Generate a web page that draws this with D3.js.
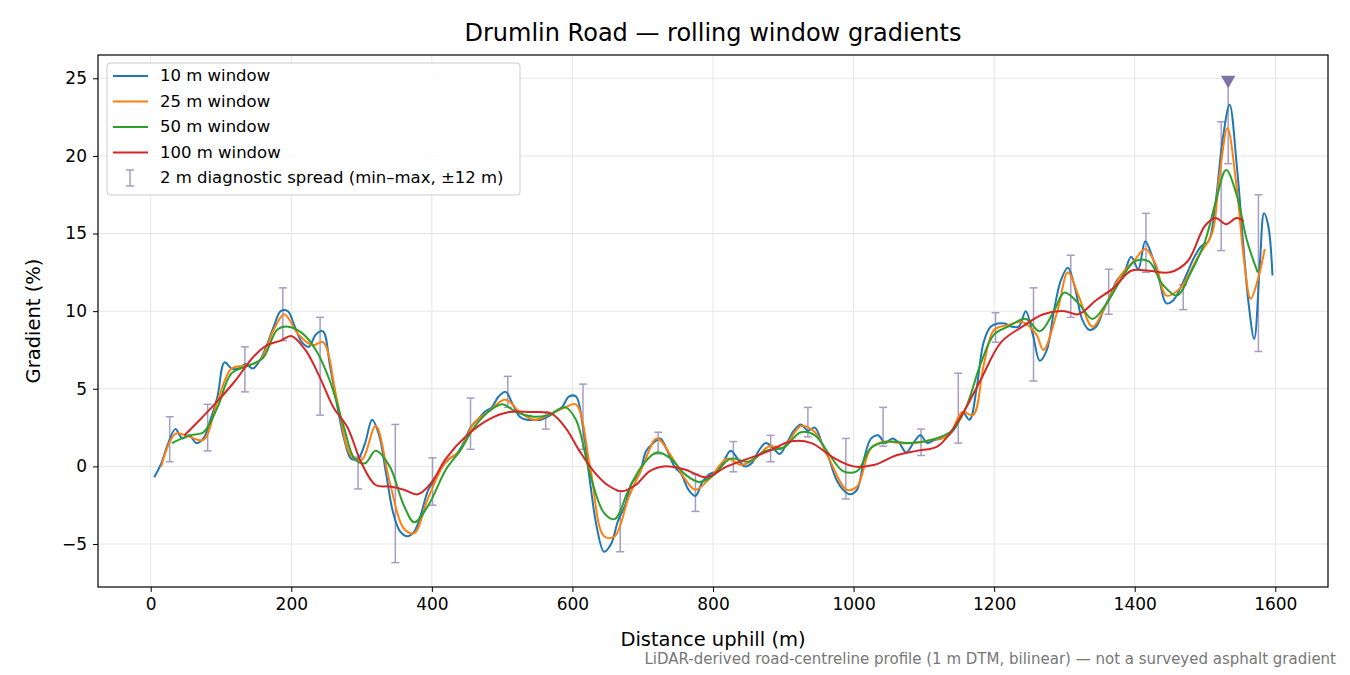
<!DOCTYPE html>
<html><head><meta charset="utf-8">
<script src="https://cdn.jsdelivr.net/npm/d3@7"></script>
<style>body{margin:0;background:#fff}svg text{font-family:"DejaVu Sans",sans-serif}</style>
</head><body><svg id="c" width="1350" height="675"></svg>
<script>
const d10 = [5,15,25,35,45,55,65,75,85,95,105,115,125,135,145,155,165,175,185,195,205,215,225,235,245,255,265,275,285,295,305,315,325,335,345,355,365,375,385,395,405,415,425,435,445,455,465,475,485,495,505,515,525,535,545,555,565,575,585,595,605,615,625,635,645,655,665,675,685,695,705,715,725,735,745,755,765,775,785,795,805,815,825,835,845,855,865,875,885,895,905,915,925,935,945,955,965,975,985,995,1005,1015,1025,1035,1045,1055,1065,1075,1085,1095,1105,1115,1125,1135,1145,1155,1165,1175,1185,1195,1205,1215,1225,1235,1245,1255,1265,1275,1285,1295,1305,1315,1325,1335,1345,1355,1365,1375,1385,1395,1405,1415,1425,1435,1445,1455,1465,1475,1485,1495,1505,1515,1525,1535,1545,1555,1562,1570,1578,1584,1590,1596];
const v10 = [-0.7,0.2,1.5,2.4,1.8,2.0,1.5,1.8,3.0,4.5,6.7,6.3,6.3,6.6,6.3,6.8,7.8,9.0,10.0,10.0,9.0,8.0,7.7,8.5,8.7,6.5,4.0,1.8,0.5,0.5,1.5,3.0,2.0,-0.5,-3.0,-4.2,-4.5,-4.2,-3.0,-1.5,-0.8,0.0,0.5,0.8,1.5,2.5,3.0,3.5,3.8,4.5,4.8,4.0,3.2,3.0,3.0,3.0,3.2,3.5,3.8,4.5,4.5,2.5,-1.0,-4.0,-5.5,-5.0,-3.5,-2.5,-1.0,-0.5,1.0,1.5,1.8,1.0,0.0,-0.5,-1.5,-1.9,-1.0,-0.5,-0.3,0.3,1.0,0.5,0.0,0.2,1.0,1.5,1.2,0.8,1.5,2.3,2.7,2.3,2.5,1.5,0.5,-0.8,-1.5,-1.8,-1.5,0.5,1.8,2.0,1.5,1.8,1.5,0.9,1.5,2.0,1.5,1.7,1.8,2.0,2.5,3.5,3.0,5.0,8.0,9.0,9.2,9.2,9.0,9.0,10.0,8.5,6.8,7.5,10.0,12.0,12.8,11.5,9.5,8.8,9.0,10.0,11.0,12.0,12.5,13.5,12.7,14.5,13.5,12.0,10.5,10.7,11.5,12.5,13.5,14.2,14.5,17.0,21.0,23.3,19.5,14.0,10.5,8.2,13.0,16.3,15.5,12.3];
const d25 = [15,35,55,75,95,115,135,155,175,190,210,230,245,265,285,300,320,340,360,375,395,420,440,460,480,505,525,545,565,590,605,625,645,660,680,700,720,740,760,775,795,820,840,860,880,900,925,945,965,990,1005,1025,1045,1065,1085,1110,1135,1155,1170,1185,1200,1220,1240,1260,1270,1290,1305,1320,1340,1360,1380,1400,1415,1430,1445,1465,1490,1510,1520,1532,1545,1555,1565,1575,1585];
const v25 = [0,2.1,1.9,1.7,4.2,6.3,6.5,6.8,8.8,9.8,8.5,7.8,8.0,4.3,0.7,0.4,2.6,-1.0,-4.0,-4.3,-2.0,0.3,1.0,2.8,3.5,4.3,3.5,3.0,3.3,3.8,4.0,0,-4.5,-4.5,-2.0,0,1.8,0.7,-0.8,-1.5,-0.8,0.5,0.1,0.5,1.3,1.2,2.6,2.2,0.5,-1.5,-1.3,1.2,1.6,1.5,1.5,1.7,2.0,3.5,3.3,6.5,8.8,9.1,9.3,8.5,7.5,10.0,12.5,11.0,9.0,10.5,12.3,13.3,14.0,13.0,11.0,11.5,13.5,15.0,18.5,21.8,18.0,13.5,10.8,12.0,14.0];
const d50 = [30,55,75,95,115,140,160,180,195,215,235,255,275,290,305,320,340,360,375,395,420,440,460,480,500,520,545,565,590,605,625,645,660,680,700,720,740,760,780,800,825,850,875,900,925,945,965,985,1005,1025,1050,1080,1110,1140,1160,1180,1200,1220,1245,1265,1285,1300,1320,1340,1360,1380,1400,1420,1440,1460,1480,1500,1515,1530,1545,1560,1575];
const v50 = [1.5,2.0,2.2,3.8,6.0,6.5,7.0,8.8,9.0,8.6,7.5,5.5,2.5,0.5,0.2,1.0,0,-2.5,-3.6,-2.5,-0.2,1.0,2.5,3.5,4.0,3.5,3.2,3.3,3.8,3.0,-0.5,-3.0,-3.4,-1.5,0.1,0.9,0.5,-0.5,-1.0,-0.6,0.5,0.3,1.0,1.2,2.2,2.0,0.8,-0.3,-0.3,1.2,1.6,1.5,1.7,2.3,3.8,6.5,8.5,9.0,9.5,8.7,10.0,11.2,10.5,9.5,10.5,12.0,13.2,13.2,11.7,11.0,12.5,14.5,17.0,19.1,17.5,14.5,12.5];
const d100 = [48,70,95,120,145,165,185,200,220,240,260,280,300,320,340,360,380,400,420,450,480,510,540,570,590,610,630,650,670,690,710,730,760,790,820,850,880,910,940,970,1000,1030,1060,1090,1120,1150,1180,1210,1240,1270,1300,1320,1345,1370,1395,1420,1450,1475,1500,1515,1530,1545,1555];
const v100 = [2.0,3.0,4.2,5.5,7.0,7.8,8.1,8.4,7.5,5.8,3.8,2.5,0.2,-1.2,-1.3,-1.5,-1.8,-1.0,0.5,2.0,3.0,3.5,3.5,3.4,2.5,1.0,-0.3,-1.2,-1.6,-1.2,-0.3,0.0,-0.2,-0.7,0.0,0.5,1.0,1.6,1.5,0.6,0.0,0.1,0.7,1.0,1.3,3.0,5.5,8.0,9.0,9.8,10.0,9.8,10.7,11.5,12.6,12.6,12.5,13.2,15.5,16.0,15.6,16.0,15.8];
const errD = [27,81,134,188,241,295,348,401,455,508,562,615,668,722,775,829,882,935,989,1042,1096,1149,1202,1256,1309,1363,1416,1469,1523,1576,1533];
const errLo = [0.3,1.0,4.8,8.1,3.3,-1.45,-6.2,-2.5,1.1,3.8,2.4,1.1,-5.5,0.8,-2.9,-0.35,0.3,1.9,-2.1,1.3,0.7,1.5,8.0,5.5,9.6,9.8,12.5,10.1,13.9,7.4,19.5];
const errHi = [3.2,4.0,7.7,11.5,9.6,0.6,2.7,0.55,4.4,5.8,3.5,5.3,-1.6,2.2,-0.5,1.6,2.0,3.8,1.8,3.8,2.4,6.0,9.9,11.5,13.6,12.7,16.3,11.7,22.2,17.5,24.9];
const peak = {d:1533, v:24.9};
const xTicks = [0,200,400,600,800,1000,1200,1400,1600];
const yTicks = [-5,0,5,10,15,20,25];
const seriesNames = ["10 m window","25 m window","50 m window","100 m window"];
const colors = ["#1f77b4","#ff7f0e","#2ca02c","#d62728"];

const svg = d3.select("#c");
const L=98,R=1328,T=55,B=587;
const x = d3.scaleLinear().domain([-75,1675]).range([L,R]);
const y = d3.scaleLinear().domain([-7.77,26.5]).range([B,T]);
const g = svg.append("g");
g.selectAll(".gx").data(xTicks).join("line").attr("x1",d=>x(d)).attr("x2",d=>x(d)).attr("y1",T).attr("y2",B).attr("stroke","#e5e5e5").attr("stroke-width",1);
g.selectAll(".gy").data(yTicks).join("line").attr("y1",d=>y(d)).attr("y2",d=>y(d)).attr("x1",L).attr("x2",R).attr("stroke","#e5e5e5").attr("stroke-width",1);
svg.append("clipPath").attr("id","cp").append("rect").attr("x",L).attr("y",T).attr("width",R-L).attr("height",B-T);
const ec="#a89cc4";
const eb = g.append("g");
errD.forEach((d,i)=>{
  eb.append("line").attr("x1",x(d)).attr("x2",x(d)).attr("y1",y(errLo[i])).attr("y2",y(errHi[i])).attr("stroke",ec).attr("stroke-width",1.5);
  if(i<errD.length-1){[errLo[i],errHi[i]].forEach(v=>eb.append("line").attr("x1",x(d)-4).attr("x2",x(d)+4).attr("y1",y(v)).attr("y2",y(v)).attr("stroke",ec).attr("stroke-width",1.5));}
  else eb.append("line").attr("x1",x(d)-4).attr("x2",x(d)+4).attr("y1",y(errLo[i])).attr("y2",y(errLo[i])).attr("stroke",ec).attr("stroke-width",1.5);
});
const line = d3.line().x(d=>x(d[0])).y(d=>y(d[1])).curve(d3.curveCatmullRom.alpha(0.5));
const S=[[d10,v10],[d25,v25],[d50,v50],[d100,v100]];
S.forEach((s,i)=>{
  g.append("path").datum(s[0].map((d,j)=>[d,s[1][j]])).attr("d",line).attr("fill","none").attr("stroke",colors[i]).attr("stroke-width",2).attr("clip-path","url(#cp)");
});
g.append("path").attr("d",d3.symbol(d3.symbolTriangle,90)()).attr("transform",`translate(${x(peak.d)},${y(peak.v)}) rotate(180)`).attr("fill","#7f72a8");
svg.append("rect").attr("x",L).attr("y",T).attr("width",R-L).attr("height",B-T).attr("fill","none").attr("stroke","#000").attr("stroke-width",1.2);
const xa = svg.append("g").attr("transform",`translate(0,${B})`).call(d3.axisBottom(x).tickValues(xTicks).tickSize(5).tickPadding(6).tickFormat(d=>String(d)));
const ya = svg.append("g").attr("transform",`translate(${L},0)`).call(d3.axisLeft(y).tickValues(yTicks).tickSize(5).tickPadding(6).tickFormat(d=>d<0?"\u2212"+Math.abs(d):String(d)));
[xa,ya].forEach(a=>{a.select(".domain").remove();a.selectAll("text").attr("font-size",17).attr("fill","#000").attr("font-family","DejaVu Sans");a.selectAll("line").attr("stroke","#000");});
svg.append("text").attr("x",713).attr("y",41).attr("text-anchor","middle").attr("font-size",24).text("Drumlin Road \u2014 rolling window gradients");
svg.append("text").attr("x",713).attr("y",646).attr("text-anchor","middle").attr("font-size",19.5).text("Distance uphill (m)");
svg.append("text").attr("transform","translate(40,321) rotate(-90)").attr("text-anchor","middle").attr("font-size",19.5).text("Gradient (%)");
svg.append("text").attr("x",1336).attr("y",664).attr("text-anchor","end").attr("font-size",15).attr("fill","#777").text("LiDAR-derived road-centreline profile (1 m DTM, bilinear) \u2014 not a surveyed asphalt gradient");
const lg = svg.append("g");
lg.append("rect").attr("x",107).attr("y",63).attr("width",413).attr("height",132).attr("rx",3).attr("fill","#fff").attr("fill-opacity",0.85).attr("stroke","#ccc");
seriesNames.forEach((n,i)=>{
  const yy=76+i*25.5;
  lg.append("line").attr("x1",113).attr("x2",148).attr("y1",yy).attr("y2",yy).attr("stroke",colors[i]).attr("stroke-width",2);
  lg.append("text").attr("x",160).attr("y",yy+5).attr("font-size",16.5).text(n);
});
const ly=178;
lg.append("line").attr("x1",130).attr("x2",130).attr("y1",ly-8).attr("y2",ly+8).attr("stroke",ec).attr("stroke-width",1.5);
[ly-8,ly+8].forEach(v=>lg.append("line").attr("x1",126).attr("x2",134).attr("y1",v).attr("y2",v).attr("stroke",ec).attr("stroke-width",1.5));
lg.append("text").attr("x",160).attr("y",ly+5).attr("font-size",16.5).text("2 m diagnostic spread (min\u2013max, \u00b112 m)");
</script></body></html>
